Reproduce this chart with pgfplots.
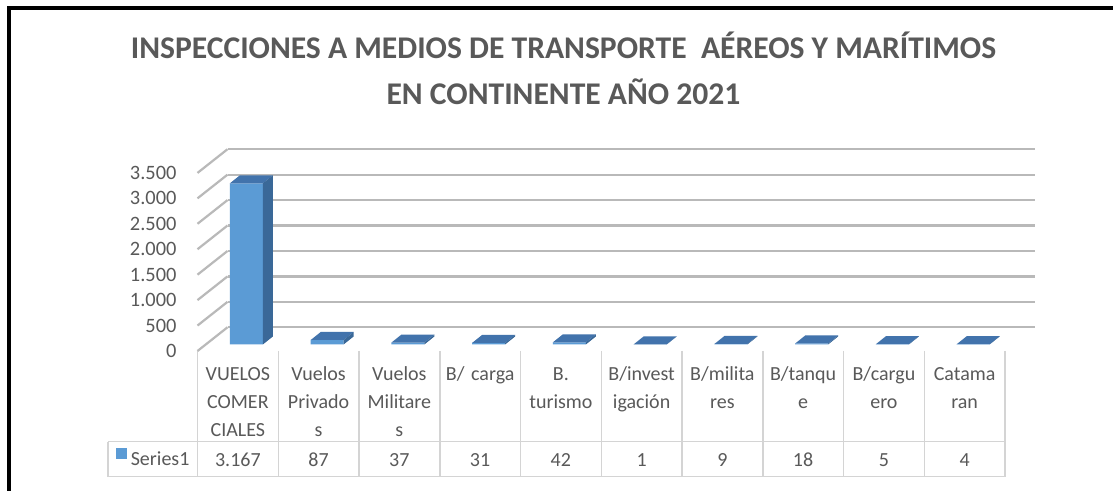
\documentclass[border=0pt]{standalone}
\usepackage{fontspec}
\setmainfont{Carlito}
\usepackage{pgfplots}
\pgfplotsset{compat=1.18}

\definecolor{txtgray}{RGB}{89,89,89}
\definecolor{gridcol}{RGB}{185,185,185}
\definecolor{tablecol}{RGB}{212,212,212}
\definecolor{barfront}{RGB}{91,155,213}
\definecolor{barside}{RGB}{58,104,152}
\definecolor{bartop}{RGB}{66,115,172}

\pgfkeys{/pgf/number format/.cd, 1000 sep={.}, assume math mode=true}

% top and side faces of a 3D bar, plus the value row of the data table
\pgfdeclareplotmark{bar3d}{%
  \pgfmathsetmacro\hh{\rawv*0.02543}%
  \pgfsetfillcolor{bartop}%
  \pgfpathmoveto{\pgfpoint{-3.95pt}{3.3pt}}%
  \pgfpathlineto{\pgfpoint{12.55pt}{3.3pt}}%
  \pgfpathlineto{\pgfpoint{17.55pt}{7.3pt}}%
  \pgfpathlineto{\pgfpoint{1.05pt}{7.3pt}}%
  \pgfpathclose
  \pgfusepath{fill}%
  \pgfsetfillcolor{barside}%
  \pgfpathmoveto{\pgfpoint{12.55pt}{3.3pt}}%
  \pgfpathlineto{\pgfpoint{17.55pt}{7.3pt}}%
  \pgfpathlineto{\pgfpoint{17.55pt}{7.3pt-\hh pt}}%
  \pgfpathlineto{\pgfpoint{12.55pt}{3.3pt-\hh pt}}%
  \pgfpathclose
  \pgfusepath{fill}%
  \pgftext[base,at={\pgfpoint{0pt}{-\hh pt-57.85pt}}]{\color{txtgray}\fontsize{10}{12}\selectfont\pgfmathprintnumber{\rawv}}%
}

\begin{document}
\begin{tikzpicture}
\useasboundingbox (0,0) rectangle (556.5pt,-245.5pt);
\clip (0,0) rectangle (556.5pt,-245.5pt);
\fill[white] (0,0) rectangle (556.5pt,-245.5pt);

% frame, title and table rules, in pixel units of the reference
\begin{scope}[x=0.5pt, y=-0.5pt]
  \draw[black, line width=1.75pt] (9,8) rectangle (1150,520);
  \node[anchor=base, text=txtgray, font=\bfseries\fontsize{15.8}{20}\selectfont] at (563.5,58.3)
    {INSPECCIONES A MEDIOS DE TRANSPORTE\ \ AÉREOS Y MARÍTIMOS};
  \node[anchor=base, text=txtgray, font=\bfseries\fontsize{15.8}{20}\selectfont] at (563.5,105)
    {EN CONTINENTE AÑO 2021};
  \foreach \k in {0,...,10}
    \draw[tablecol, line width=0.75pt] ({197.5+80.75*\k},351) -- ({197.5+80.75*\k},476.7);
  \draw[tablecol, line width=0.75pt] (108,441.7) -- (1005,441.7);
  \draw[tablecol, line width=0.75pt] (108,476.7) -- (1005,476.7);
  \draw[tablecol, line width=0.75pt] (108,441.7) -- (108,476.7);
\end{scope}

\begin{axis}[
  at={(98.75pt,-175.5pt)}, anchor=south west,
  x=40.375pt, y=0.02543pt,
  xmin=-0.5, xmax=9.5, ymin=0, ymax=3500,
  clip=false,
  axis line style={draw=none},
  tick style={draw=none},
  ytick={0,500,...,3500},
  scaled y ticks=false,
  xtick={0,...,9},
  xticklabels={{VUELOS\\COMER\\CIALES},{Vuelos\\Privado\\s},{Vuelos\\Militare\\s},{B/ carga},{B.\\turismo},{B/invest\\igación},{B/milita\\res},{B/tanqu\\e},{B/cargu\\ero},{Catama\\ran}},
  ymajorgrids,
  major grid style={draw=gridcol, line width=1.1pt, xshift=15pt, yshift=11.85pt},
  yticklabel style={anchor=east, inner sep=0pt, xshift=-10.3pt, text=txtgray, font=\fontsize{10.2}{12}\selectfont},
  xticklabel style={anchor=north, inner sep=0pt, text width=39pt, align=center, text=txtgray,
    font=\fontsize{10}{14}\selectfont, yshift=-6.9pt,
    execute at begin node={\rule{0pt}{7.5pt}}},
  legend style={at={(axis description cs:-0.1009,-0.6124)}, anchor=west, draw=none, fill=none,
    inner sep=0pt, font=\fontsize{10}{12}\selectfont, text=txtgray},
]
  \pgfplotsinvokeforeach{0,500,...,3500}{
    \draw[gridcol, line width=1.1pt] (axis cs:-0.5,#1) -- ++(15pt,11.85pt);
  }
  % front faces
  \addplot[ybar, bar width=16.5pt, bar shift=4.3pt, yshift=3.3pt, fill=barfront, draw=none,
    legend image code/.code={\fill[barfront] (0pt,-2.6pt) rectangle (5.2pt,2.6pt);}]
    table[x=x, y=v] {
x v
0 3167
1 87
2 37
3 31
4 42
5 1
6 9
7 18
8 5
9 4
};
  \addlegendentry{Series1}
  % top and side faces, values below
  \addplot[scatter, only marks, mark=bar3d, forget plot,
    visualization depends on={value \thisrow{v} \as \rawv}]
    table[x=x, y=v] {
x v
0 3167
1 87
2 37
3 31
4 42
5 1
6 9
7 18
8 5
9 4
};
\end{axis}
\end{tikzpicture}
\end{document}
